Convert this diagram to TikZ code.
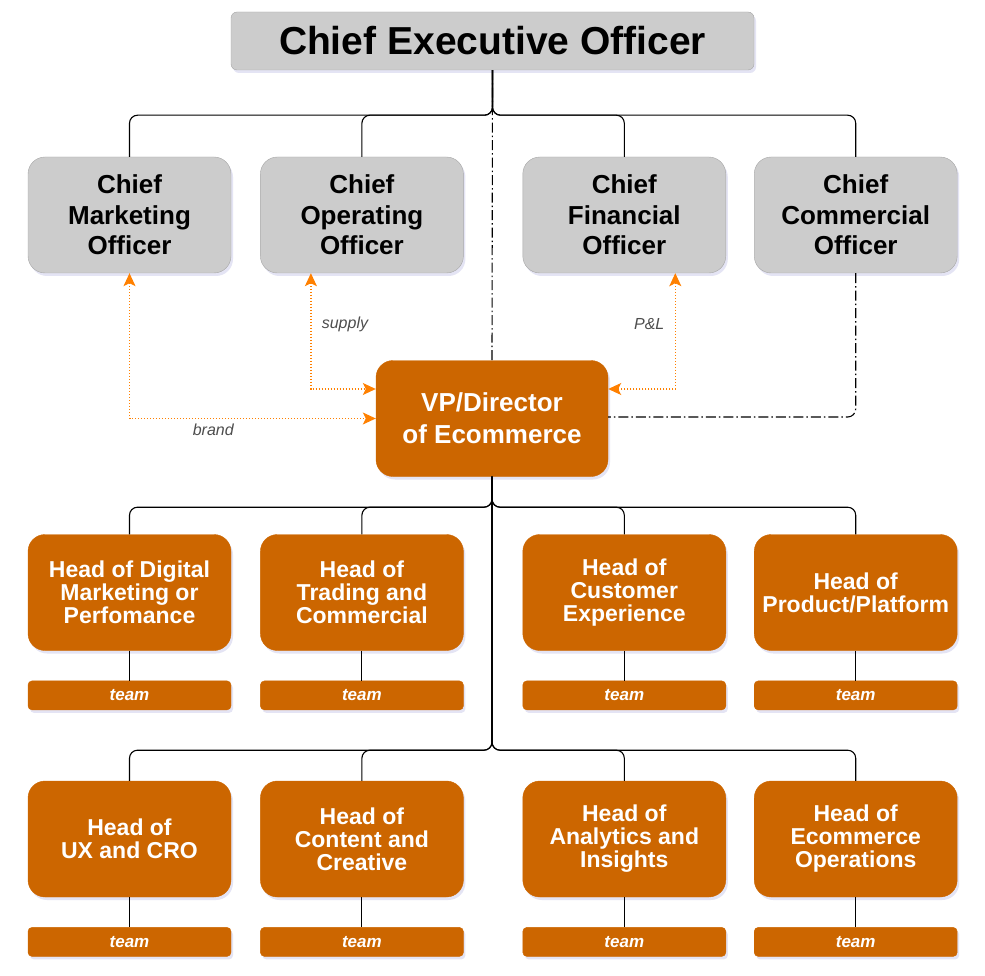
\documentclass[tikz,border=0pt]{standalone}
\usepackage{xcolor}
\usepackage{fontspec}
\setmainfont{Liberation Sans}
\usepackage{tikz}
\usetikzlibrary{arrows.meta,positioning,shapes,shadows}

\definecolor{chiefgrey}{HTML}{CCCCCC}
\definecolor{chiefline}{HTML}{A6A6A6}
\definecolor{ecomorange}{HTML}{CC6600}
\definecolor{linkorange}{HTML}{FF8000}
\definecolor{labelgrey}{HTML}{4D4D4D}

\begin{document}
\begin{tikzpicture}[x=1pt,y=-1pt,node distance=29pt,
  every node/.style={align=center},
  bus/.style={rounded corners=8pt,to path={-- ++(0,#1) -| (\tikztotarget)}}
]

\useasboundingbox (0,0) rectangle (985,976);

\tikzstyle{softshadow}=[drop shadow={shadow xshift=2pt,shadow yshift=-3pt,opacity=0.15,fill=blue!40!gray}]
\tikzstyle{ceobox}=[draw=chiefline,fill=chiefgrey,rounded corners=6pt,minimum width=523pt,minimum height=58pt,inner sep=0pt,softshadow,font=\fontsize{39}{40}\selectfont\bfseries]
\tikzstyle{chief}=[draw=chiefline,fill=chiefgrey,rounded corners=17pt,minimum width=203pt,minimum height=116pt,inner sep=0pt,softshadow,font=\fontsize{26}{30.5}\selectfont\bfseries]
\tikzstyle{vpbox}=[draw=ecomorange,fill=ecomorange,text=white,rounded corners=17pt,minimum width=232pt,minimum height=116pt,inner sep=0pt,softshadow,font=\fontsize{26}{32}\selectfont\bfseries]
\tikzset{head/.style={draw=ecomorange,fill=ecomorange,text=white,rounded corners=17pt,minimum width=203pt,minimum height=116pt,inner sep=0pt,softshadow,font=\fontsize{23}{23}\selectfont\bfseries}}
\tikzset{team/.style={draw=ecomorange,fill=ecomorange,text=white,rounded corners=4pt,minimum width=203pt,minimum height=29pt,inner sep=0pt,softshadow,font=\fontsize{17}{18}\selectfont\bfseries\itshape}}
\tikzset{link/.style={draw=linkorange,line width=1.2pt,dash pattern=on 1.5pt off 1.5pt,{Stealth[length=13pt,width=12pt,inset=3pt]}-{Stealth[length=13pt,width=12pt,inset=3pt]}}}
\tikzset{linklabel/.style={text=labelgrey,font=\fontsize{16}{18}\selectfont\itshape}}

\node[ceobox] (ceo) at (492.5,41) {Chief Executive Officer};

\node[chief]                    (cmo) at (129.5,215) {Chief\\Marketing\\Officer};
\node[chief, right=of cmo]      (coo) {Chief\\Operating\\Officer};
\node[chief, right=59pt of coo] (cfo) {Chief\\Financial\\Officer};
\node[chief, right=28pt of cfo] (cco) {Chief\\Commercial\\Officer};

\node[vpbox] (vp) at (492,418.5) {VP/Director\\of Ecommerce};

\node[head]                    (hdm) at (129.5,592.5) {Head of Digital\\Marketing or\\Perfomance};
\node[head, right=of hdm]      (htc) {Head of\\Trading and\\Commercial};
\node[head, right=59pt of htc] (hcx) {Head of\\Customer\\Experience};
\node[head, right=28pt of hcx] (hpp) {Head of\\Product/Platform};

\node[head]                    (hux) at (129.5,839) {Head of\\UX and CRO};
\node[head, right=of hux]      (hcc) {Head of\\Content and\\Creative};
\node[head, right=59pt of hcc] (hai) {Head of\\Analytics and\\Insights};
\node[head, right=28pt of hai] (heo) {Head of\\Ecommerce\\Operations};

\node[team, below=30pt of hdm] (tdm) {team};
\node[team, below=30pt of htc] (ttc) {team};
\node[team, below=30pt of hcx] (tcx) {team};
\node[team, below=30pt of hpp] (tpp) {team};
\node[team, below=30pt of hux] (tux) {team};
\node[team, below=30pt of hcc] (tcc) {team};
\node[team, below=30pt of hai] (tai) {team};
\node[team, below=30pt of heo] (teo) {team};

\draw[line width=1.1pt]
  (ceo.south) edge[bus=45] (cmo.north)
  (ceo.south) edge[bus=45] (coo.north)
  (ceo.south) edge[bus=45] (cfo.north)
  (ceo.south) edge[bus=45] (cco.north);

\draw[line width=1.1pt]
  (vp.south) edge[bus=30.5] (hdm.north)
  (vp.south) edge[bus=30.5] (htc.north)
  (vp.south) edge[bus=30.5] (hcx.north)
  (vp.south) edge[bus=30.5] (hpp.north)
  (vp.south) edge[bus=273.5] (hux.north)
  (vp.south) edge[bus=273.5] (hcc.north)
  (vp.south) edge[bus=273.5] (hai.north)
  (vp.south) edge[bus=273.5] (heo.north);

\draw[line width=1.1pt]
  (hdm) edge (tdm)
  (htc) edge (ttc)
  (hcx) edge (tcx)
  (hpp) edge (tpp)
  (hux) edge (tux)
  (hcc) edge (tcc)
  (hai) edge (tai)
  (heo) edge (teo);

\draw[line width=1.1pt,dash pattern=on 10pt off 3pt on 1.5pt off 3pt]
  (ceo.south) -- (vp.north);
\draw[line width=1.1pt,rounded corners=8pt,dash pattern=on 10pt off 3pt on 1.5pt off 3pt]
  (cco.south) |- ([yshift=1.5pt]vp.east);

\draw[link] (cmo.south) |- (vp.west)
  node[linklabel, pos=0.67, below=1pt] {brand};
\draw[link] ([xshift=-51pt]coo.south) |- ([yshift=29.5pt]vp.west)
  node[linklabel, pos=0.22, right=7pt] {supply};
\draw[link] ([xshift=51pt]cfo.south) |- ([yshift=29.5pt]vp.east)
  node[linklabel, pos=0.22, left=7pt] {P\&L};

\end{tikzpicture}
\end{document}
